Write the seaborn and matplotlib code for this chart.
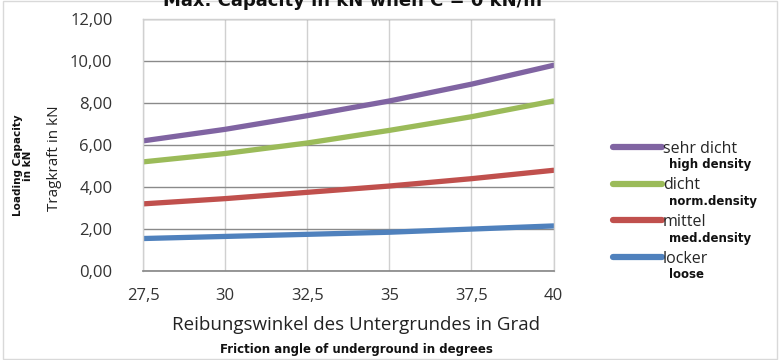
import matplotlib
matplotlib.use("Agg")
import matplotlib.pyplot as plt
import seaborn as sns
import pandas as pd

angles = [27.5, 30, 32.5, 35, 37.5, 40]
sehr_dicht = [6.2, 6.75, 7.4, 8.1, 8.9, 9.8]
dicht = [5.2, 5.6, 6.1, 6.7, 7.35, 8.1]
mittel = [3.2, 3.45, 3.75, 4.05, 4.4, 4.8]
locker = [1.55, 1.65, 1.75, 1.85, 2.0, 2.15]
series_de = ["sehr dicht", "dicht", "mittel", "locker"]
series_en = ["high density", "norm.density", "med.density", "loose"]
colors = ["#8064A2", "#9BBB59", "#C0504D", "#4F81BD"]
xticklabels = ["27,5", "30", "32,5", "35", "37,5", "40"]
yticks = [0, 2, 4, 6, 8, 10, 12]
yticklabels = ["0,00", "2,00", "4,00", "6,00", "8,00", "10,00", "12,00"]

rows = []
for name, vals in zip(series_de, [sehr_dicht, dicht, mittel, locker]):
    for a, v in zip(angles, vals):
        rows.append({"angle": a, "value": v, "series": name})
df = pd.DataFrame(rows)

sns.set_theme(style="white")
plt.rcParams["font.family"] = ["Open Sans", "DejaVu Sans"]
BOLD = ["DejaVu Sans"]

fig = plt.figure(figsize=(7.79, 3.60), dpi=100)
ax = fig.add_axes([0.1836, 0.247, 0.527, 0.700])

sns.lineplot(data=df, x="angle", y="value", hue="series", hue_order=series_de,
             palette=colors, linewidth=3.8, ax=ax, legend=True)

ax.set_xlim(27.5, 40)
ax.set_ylim(0, 12)
ax.set_xticks(angles)
ax.set_xticklabels(xticklabels, fontsize=12, color="#333333")
ax.set_yticks(yticks)
ax.set_yticklabels(yticklabels, fontsize=12, color="#333333")
ax.grid(axis="y", color="#8a8a8a", linewidth=1.0)
ax.grid(axis="x", color="#d0d0d0", linewidth=1.0)
ax.set_axisbelow(True)
for s in ["top", "right", "left"]:
    ax.spines[s].set_color("#d0d0d0")
    ax.spines[s].set_linewidth(1.0)
ax.spines["bottom"].set_color("#8a8a8a")
ax.tick_params(axis="x", length=4, color="#8a8a8a", pad=8)
ax.tick_params(axis="y", length=0, pad=22)
ax.set_xlabel("")
ax.set_ylabel("")

# Title (partly clipped at the top, as in the reference)
fig.text(0.457, 0.997, "Max. Capacity in kN when C = 0 kN/m²", ha="center", va="center",
         fontsize=13, fontweight="bold", color="#111111", family=BOLD)

# Axis labels
fig.text(0.457, 0.097, "Reibungswinkel des Untergrundes in Grad", ha="center", va="center",
         fontsize=13.5, color="#222222")
fig.text(0.457, 0.028, "Friction angle of underground in degrees", ha="center", va="center",
         fontsize=8.5, fontweight="bold", color="#111111", family=BOLD)
fig.text(0.030, 0.54, "Loading Capacity\nin kN", ha="center", va="center", rotation=90,
         fontsize=7.5, fontweight="bold", color="#111111", linespacing=1.0, family=BOLD)
fig.text(0.070, 0.56, "Tragkraft in kN", ha="center", va="center", rotation=90,
         fontsize=11, color="#222222")

# Legend
leg = ax.legend(loc="upper left", bbox_to_anchor=(1.144, 0.518), frameon=False,
                fontsize=11.5, handlelength=3.1, handletextpad=0.05, labelspacing=1.3,
                borderaxespad=0, borderpad=0)
for line in leg.get_lines():
    line.set_linewidth(4.5)
fig.canvas.draw()
renderer = fig.canvas.get_renderer()
inv = fig.transFigure.inverted()
for txt, en in zip(leg.get_texts(), series_en):
    bb = txt.get_window_extent(renderer)
    x0, y0 = inv.transform((bb.x0, bb.y0))
    fig.text(x0 + 0.008, y0 - 0.004, en, ha="left", va="top", fontsize=8.5,
             fontweight="bold", color="#111111", family=BOLD)

# Chart-area border
fig.patches.append(plt.Rectangle((0.004, 0.003), 0.993, 0.994, transform=fig.transFigure,
                                 fill=False, edgecolor="#d9d9d9", linewidth=1.0))

fig.savefig("out.png", dpi=100)
